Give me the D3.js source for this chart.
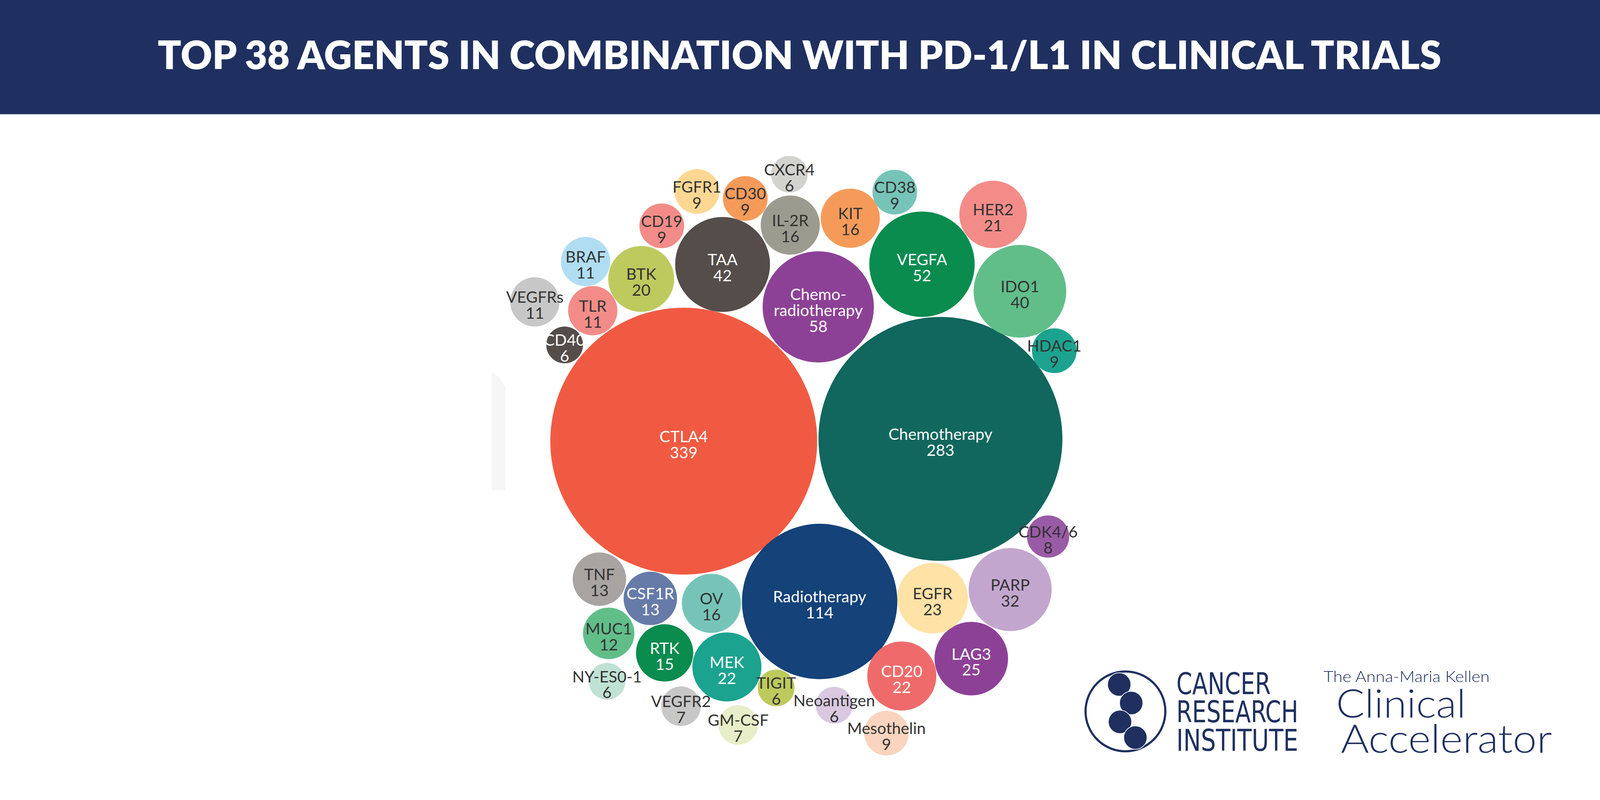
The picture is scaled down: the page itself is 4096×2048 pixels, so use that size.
<!DOCTYPE html>
<html>
<head>
<meta charset="utf-8">
<script src="https://cdn.jsdelivr.net/npm/d3@7"></script>
<style>
  html, body { margin: 0; padding: 0; background: #ffffff; }
  svg { display: block; }
</style>
</head>
<body>
<script>
// ------------------------------------------------------------------
// DATA
// ------------------------------------------------------------------
const titleText = "TOP 38 AGENTS IN COMBINATION WITH PD-1/L1 IN CLINICAL TRIALS";

const agents = ["CTLA4", "Chemotherapy", "Radiotherapy", "Chemo-radiotherapy", "VEGFA", "TAA",
  "IDO1", "PARP", "LAG3", "EGFR", "MEK", "CD20", "HER2", "BTK", "IL-2R", "KIT", "OV", "RTK",
  "TNF", "CSF1R", "MUC1", "BRAF", "VEGFRs", "TLR", "FGFR1", "CD30", "CD38", "CD19", "HDAC1",
  "Mesothelin", "CDK4/6", "VEGFR2", "GM-CSF", "CXCR4", "CD40", "NY-ES0-1", "TIGIT", "Neoantigen"];

const trials = [339, 283, 114, 58, 52, 42, 40, 32, 25, 23, 22, 22, 21, 20, 16, 16, 16, 15,
  13, 13, 12, 11, 11, 11, 9, 9, 9, 9, 9, 9, 8, 7, 7, 6, 6, 6, 6, 6];

// label wrapping
const labelBreaks = { "Chemo-radiotherapy": ["Chemo-", "radiotherapy"] };

// ------------------------------------------------------------------
// STYLES
// ------------------------------------------------------------------
const fills = ["#F15A42", "#11675D", "#144279", "#8D4196", "#098C4E", "#554D4A",
  "#61BE89", "#C3A6CE", "#8D4196", "#FEE2A6", "#1BA38F", "#EF6B6B", "#F38C88", "#BDCA5D",
  "#9C9B8F", "#F69A5A", "#76C4B8", "#098C4E", "#A8A4A2", "#667BA8", "#61BE89", "#B0DDF2",
  "#C8C7C7", "#F38C88", "#FED893", "#F69A5A", "#76C4B8", "#F38C88", "#1BA38F", "#FAD4BE",
  "#9A5BA6", "#C8C7C7", "#E8EEC7", "#D2D2CE", "#554D4A", "#BFE2D5", "#BDCA5D", "#D9C8E0"];
const whiteLabel = new Set(["CTLA4", "Chemotherapy", "Radiotherapy", "Chemo-radiotherapy",
  "VEGFA", "TAA", "LAG3", "MEK", "CD20", "RTK", "CSF1R", "CD40"]);
const NAVY = "#1F3060";
const DARK_TEXT = "#333333";

// ------------------------------------------------------------------
// PACKING: how each bubble rests against bubbles already placed
// [agent]                               -> first bubble
// [agent, A, B, [gapA, gapB]]           -> touches A and B (on the right of A->B)
// [agent, A, angleDeg, gap]             -> rests against A in the given direction
// ------------------------------------------------------------------
const packing = [
  ["CTLA4"],
  ["Chemotherapy", "CTLA4", -0.5, 4],
  ["Radiotherapy", "CTLA4", "Chemotherapy", [-3, 9]],
  ["Chemo-radiotherapy", "Chemotherapy", "CTLA4", [7, 3]],
  ["TAA", "Chemo-radiotherapy", "CTLA4", [5, 0]],
  ["VEGFA", "Chemotherapy", "Chemo-radiotherapy", [3, 12]],
  ["IDO1", "Chemotherapy", "VEGFA", [-2, 8]],
  ["HER2", "IDO1", "VEGFA", [4, 1]],
  ["HDAC1", "Chemotherapy", "IDO1", [-1, 0]],
  ["EGFR", "Radiotherapy", "Chemotherapy", [0, 7]],
  ["PARP", "EGFR", "Chemotherapy", [4, 8]],
  ["CDK4/6", "PARP", "Chemotherapy", [8, 7]],
  ["LAG3", "EGFR", "PARP", [-1, 3]],
  ["CD20", "Radiotherapy", "LAG3", [-4, 1]],
  ["Mesothelin", "CD20", 105, 7],
  ["OV", "CTLA4", "Radiotherapy", [5, 3]],
  ["MEK", "OV", "Radiotherapy", [4, 4]],
  ["TIGIT", "MEK", "Radiotherapy", [2, 2]],
  ["Neoantigen", "Radiotherapy", 82, 27],
  ["GM-CSF", "MEK", 79, 15],
  ["CSF1R", "CTLA4", 102, 2],
  ["TNF", "CTLA4", "CSF1R", [5, 3]],
  ["RTK", "CSF1R", "MEK", [3, 2]],
  ["MUC1", "TNF", "CSF1R", [8, 6]],
  ["NY-ES0-1", "MUC1", 92, 12],
  ["VEGFR2", "RTK", "MEK", [23, 19]],
  ["BTK", "TAA", "CTLA4", [7, 4]],
  ["TLR", "BTK", "CTLA4", [1, 3]],
  ["CD40", "TLR", "CTLA4", [4, 4]],
  ["BRAF", "BTK", "TLR", [2, 1]],
  ["VEGFRs", "TLR", "CD40", [29, 29]],
  ["CD19", "TAA", "BTK", [7, 5]],
  ["IL-2R", "Chemo-radiotherapy", "TAA", [4, 4]],
  ["CD30", "IL-2R", "TAA", [1, 0]],
  ["FGFR1", "CD30", "CD19", [13, 14]],
  ["KIT", "VEGFA", "IL-2R", [9, 4]],
  ["CD38", "VEGFA", "KIT", [6, -1]],
  ["CXCR4", "IL-2R", -91, 9]
];

// ------------------------------------------------------------------
// CANVAS
// ------------------------------------------------------------------
const W = 4096, H = 2048, S = W / 5000;
const svg = d3.select("body").append("svg")
  .attr("width", W).attr("height", H).attr("viewBox", `0 0 ${W} ${H}`);
svg.append("rect").attr("width", W).attr("height", H).attr("fill", "#ffffff");

// header band + title
svg.append("rect").attr("x", 0).attr("y", 0).attr("width", W).attr("height", 357 * S).attr("fill", NAVY);
svg.append("text")
  .attr("x", 2498.5 * S).attr("y", 216 * S)
  .attr("text-anchor", "middle")
  .attr("font-family", "Lato, 'Open Sans', sans-serif")
  .attr("font-weight", 800)
  .attr("font-size", 100)
  .attr("fill", "#ffffff")
  .attr("textLength", 4011 * S)
  .attr("lengthAdjust", "spacingAndGlyphs")
  .text(titleText);

// faint ghost strip left of the cluster (as in the reference)
svg.append("path")
  .attr("d", `M${1537 * S},${1162 * S} L${1560 * S},${1180 * S} L${1580 * S},${1210 * S} L${1580 * S},${1532 * S} L${1537 * S},${1532 * S} Z`)
  .attr("fill", "#f6f6f6");

// ------------------------------------------------------------------
// BUBBLE LAYOUT
// ------------------------------------------------------------------
const rScale = d3.scaleSqrt().domain([0, d3.max(trials)]).range([2.3, 417]);

const nodes = agents.map((a, i) => ({
  name: a, value: trials[i], r: rScale(trials[i]), fill: fills[i],
  ink: whiteLabel.has(a) ? "#ffffff" : DARK_TEXT
}));
const byName = new Map(nodes.map(n => [n.name, n]));

function touchTwo(A, B, r, gA, gB) {
  const da = A.r + r + gA, db = B.r + r + gB;
  const dx = B.x - A.x, dy = B.y - A.y, d = Math.hypot(dx, dy);
  const a = (da * da - db * db + d * d) / (2 * d);
  const h = Math.sqrt(Math.max(0, da * da - a * a));
  const ux = dx / d, uy = dy / d;
  return { x: A.x + a * ux - h * uy, y: A.y + a * uy + h * ux };
}

packing.forEach(p => {
  const n = byName.get(p[0]);
  if (p.length === 1) { n.x = 0; n.y = 0; return; }
  const A = byName.get(p[1]);
  if (typeof p[2] === "number") {
    const t = p[2] * Math.PI / 180, d = A.r + n.r + p[3];
    n.x = A.x + d * Math.cos(t);
    n.y = A.y + d * Math.sin(t);
  } else {
    const pt = touchTwo(A, byName.get(p[2]), n.r, p[3][0], p[3][1]);
    n.x = pt.x; n.y = pt.y;
  }
});

// fit the packed cluster into its plot area
const bx0 = d3.min(nodes, d => d.x - d.r), bx1 = d3.max(nodes, d => d.x + d.r);
const by0 = d3.min(nodes, d => d.y - d.r), by1 = d3.max(nodes, d => d.y + d.r);
const plotCx = 2479.5 * S, plotCy = 1424 * S;
const x = d3.scaleLinear().domain([bx0, bx1])
  .range([plotCx - (bx1 - bx0) * S / 2, plotCx + (bx1 - bx0) * S / 2]);
const y = d3.scaleLinear().domain([by0, by1])
  .range([plotCy - (by1 - by0) * S / 2, plotCy + (by1 - by0) * S / 2]);
const k = S; // layout unit -> pixel

const g = svg.append("g").attr("class", "bubbles");
const bub = g.selectAll("g.bubble").data(nodes).join("g").attr("class", "bubble");

bub.append("circle")
  .attr("cx", d => x(d.x))
  .attr("cy", d => y(d.y))
  .attr("r", d => d.r * k)
  .attr("fill", d => d.fill);

const FS = 50 * S, LH = 50 * S;
bub.append("text")
  .attr("text-anchor", "middle")
  .attr("font-family", "Lato, 'Open Sans', sans-serif")
  .attr("font-size", FS)
  .attr("fill", d => d.ink)
  .each(function (d) {
    const lines = (labelBreaks[d.name] || [d.name]).concat([String(d.value)]);
    const n = lines.length;
    const t = d3.select(this);
    lines.forEach((ln, i) => {
      t.append("tspan")
        .attr("x", x(d.x))
        .attr("y", y(d.y) + 3 * S + LH * i - (LH / 2) * (n - 2))
        .text(ln);
    });
  });

// ------------------------------------------------------------------
// LOGOS (bottom right)
// ------------------------------------------------------------------
const logo = svg.append("g").attr("class", "logo");
logo.append("circle")
  .attr("cx", 3517 * S).attr("cy", 2223 * S).attr("r", 124.7 * S)
  .attr("fill", "none").attr("stroke", NAVY).attr("stroke-width", 6.8 * S);
[[3497.5, 2139], [3535, 2197], [3500, 2256], [3548, 2305]].forEach(c => {
  logo.append("circle")
    .attr("cx", c[0] * S).attr("cy", c[1] * S).attr("r", 36.5 * S)
    .attr("fill", NAVY).attr("stroke", "#ffffff").attr("stroke-width", 2.2 * S);
});
const criLines = [["CANCER", 2169, 295], ["RESEARCH", 2257, 381], ["INSTITUTE", 2346, 381]];
criLines.forEach(l => {
  logo.append("text")
    .attr("x", 3676 * S).attr("y", l[1] * S)
    .attr("font-family", "'Liberation Sans Narrow', 'DejaVu Sans Condensed', 'Roboto', sans-serif")
    .attr("font-size", 93 * S)
    .attr("fill", NAVY)
    .attr("textLength", l[2] * S)
    .attr("lengthAdjust", "spacingAndGlyphs")
    .text(l[0]);
});
const caLines = [["The Anna-Maria Kellen", 4136, 2131, 519, 48], ["Clinical", 4175, 2242, 406, 124], ["Accelerator", 4190, 2352, 660, 124]];
caLines.forEach(l => {
  logo.append("text")
    .attr("x", l[1] * S).attr("y", l[2] * S)
    .attr("font-family", "Lato, 'Open Sans', sans-serif")
    .attr("font-weight", 300)
    .attr("font-size", l[4] * S)
    .attr("fill", NAVY)
    .attr("textLength", l[3] * S)
    .attr("lengthAdjust", "spacingAndGlyphs")
    .text(l[0]);
});
</script>
</body>
</html>
